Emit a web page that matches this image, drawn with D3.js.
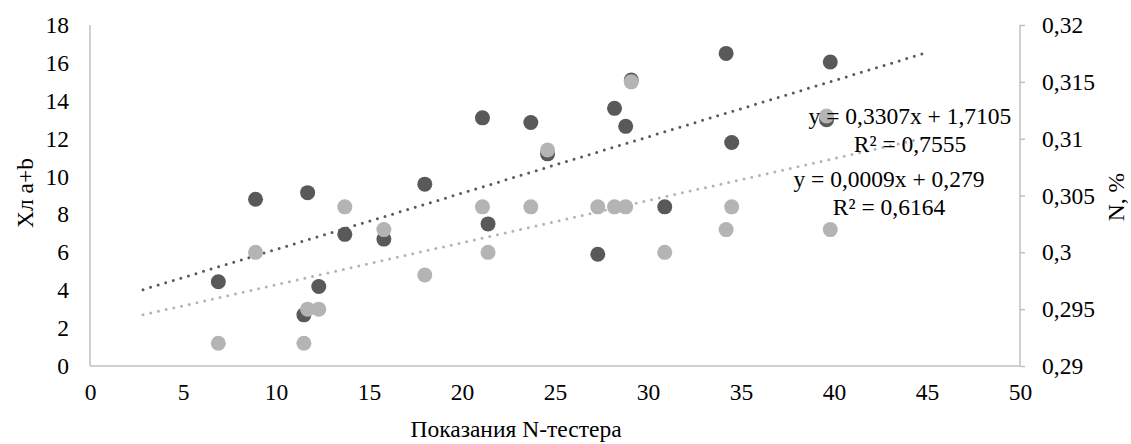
<!DOCTYPE html>
<html>
<head>
<meta charset="utf-8">
<script src="https://cdn.jsdelivr.net/npm/d3@7"></script>
<style>
body { margin: 0; background: #fff; }
</style>
</head>
<body>
<svg id="chart"></svg>
<script>
// N-tester readings (x), shared by both series
var testerX = [6.9, 8.9, 11.5, 11.7, 12.3, 13.7, 15.8, 18.0, 21.1, 21.4, 23.7, 24.6, 27.3, 28.2, 28.8, 29.1, 30.9, 34.2, 34.5, 39.6, 39.8]
// chlorophyll a+b (left axis)
var chlValues = [4.45, 8.8, 2.7, 9.15, 4.2, 6.95, 6.7, 9.6, 13.1, 7.5, 12.85, 11.2, 5.9, 13.6, 12.65, 15.1, 8.4, 16.5, 11.8, 13.0, 16.05]
// N, % (right axis)
var nValues = [0.292, 0.300, 0.292, 0.295, 0.295, 0.304, 0.302, 0.298, 0.304, 0.300, 0.304, 0.309, 0.304, 0.304, 0.304, 0.315, 0.300, 0.302, 0.304, 0.312, 0.302]

// trendline ends as drawn in the chart
var chlTrend = [[2.85, 4.03], [45, 16.55]]
var nTrend = [[2.85, 0.2945], [45, 0.3101]]

var xTicks = [0, 5, 10, 15, 20, 25, 30, 35, 40, 45, 50]
var leftTicks = [0, 2, 4, 6, 8, 10, 12, 14, 16, 18]
var rightTicks = [0.29, 0.295, 0.3, 0.305, 0.31, 0.315, 0.32]

var chlLabel = ["y = 0,3307x + 1,7105", "R² = 0,7555"]
var nLabel = ["y = 0,0009x + 0,279", "R² = 0,6164"]

var screen = {width: 1131, height: 444}
var margins = {top: 25, bottom: 78, left: 90, right: 111}
var graph = {
    width: screen.width - margins.left - margins.right,
    height: screen.height - margins.top - margins.bottom
}

var darkColor = "#595959"
var lightColor = "#b4b4b4"
var axisColor = "#bfbfbf"
var fontSize = 23.5
var serif = "Liberation Serif, Times New Roman, serif"

var svg = d3.select("#chart")
    .attr("width", screen.width)
    .attr("height", screen.height)
    .attr("font-family", serif)

var xScale = d3.scaleLinear().domain([0, 50]).range([0, graph.width])
var yLeft = d3.scaleLinear().domain([0, 18]).range([graph.height, 0])
var yRight = d3.scaleLinear().domain([0.29, 0.32]).range([graph.height, 0])

var comma = function(d) { return String(d).replace(".", ",") }

var g = svg.append("g")
    .attr("transform", "translate(" + margins.left + "," + margins.top + ")")

// axes
var xAxis = g.append("g")
    .attr("transform", "translate(0," + graph.height + ")")
    .call(d3.axisBottom(xScale).tickValues(xTicks).tickSize(0).tickPadding(17))
var lAxis = g.append("g")
    .call(d3.axisLeft(yLeft).tickValues(leftTicks).tickSize(0).tickPadding(21))
var rAxis = g.append("g")
    .attr("transform", "translate(" + graph.width + ",0)")
    .call(d3.axisRight(yRight).tickValues(rightTicks).tickSize(5).tickPadding(17).tickFormat(comma))

;[xAxis, lAxis, rAxis].forEach(function(a) {
    a.attr("font-family", serif).attr("font-size", fontSize)
    a.select(".domain").attr("stroke", axisColor).attr("stroke-width", 1.5)
    a.selectAll(".tick line").attr("stroke", axisColor).attr("stroke-width", 1.5)
    a.selectAll("text")
        .attr("fill", "#000")
        .style("font-family", serif)
        .style("font-size", fontSize + "px")
})
xAxis.select(".domain").attr("d", "M0,0H" + graph.width)
lAxis.select(".domain").attr("d", "M0," + graph.height + "V0")
rAxis.select(".domain").attr("d", "M0," + graph.height + "V0")

// trendlines
var line = function(ys) {
    return d3.line().x(function(d) { return xScale(d[0]) }).y(function(d) { return ys(d[1]) })
}
g.append("path")
    .datum(chlTrend)
    .attr("d", line(yLeft))
    .attr("fill", "none")
    .attr("stroke", darkColor)
    .attr("stroke-width", 3)
    .attr("stroke-linecap", "round")
    .attr("stroke-dasharray", "0,7.9")
g.append("path")
    .datum(nTrend)
    .attr("d", line(yRight))
    .attr("fill", "none")
    .attr("stroke", lightColor)
    .attr("stroke-width", 3)
    .attr("stroke-linecap", "round")
    .attr("stroke-dasharray", "0,7.9")

// markers
g.append("g").selectAll("circle")
    .data(testerX)
    .enter()
    .append("circle")
    .attr("cx", function(d) { return xScale(d) })
    .attr("cy", function(d, i) { return yLeft(chlValues[i]) })
    .attr("r", 7.5)
    .attr("fill", darkColor)
g.append("g").selectAll("circle")
    .data(testerX)
    .enter()
    .append("circle")
    .attr("cx", function(d) { return xScale(d) })
    .attr("cy", function(d, i) { return yRight(nValues[i]) })
    .attr("r", 7.5)
    .attr("fill", lightColor)

// trendline equations
var eq = function(lines, cx, y0) {
    svg.append("g").selectAll("text")
        .data(lines)
        .enter()
        .append("text")
        .text(function(d) { return d })
        .attr("x", cx)
        .attr("y", function(d, i) { return y0 + i * 28 })
        .attr("text-anchor", "middle")
        .attr("font-size", fontSize)
}
eq(chlLabel, 910, 124)
eq(nLabel, 889, 187)

// axis titles
svg.append("text")
    .text("Показания N-тестера")
    .attr("x", 516)
    .attr("y", 437)
    .attr("text-anchor", "middle")
    .attr("font-size", fontSize)
svg.append("text")
    .text("Хл a+b")
    .attr("text-anchor", "middle")
    .attr("transform", "translate(33,193) rotate(-90)")
    .attr("font-size", fontSize)
svg.append("text")
    .text("N, %")
    .attr("text-anchor", "middle")
    .attr("transform", "translate(1124,197) rotate(-90)")
    .attr("font-size", fontSize)
</script>
</body>
</html>
